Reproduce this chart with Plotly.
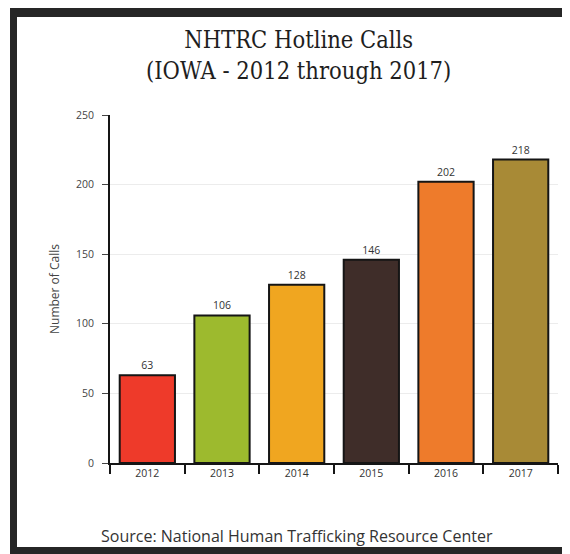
import plotly.graph_objects as go

years = ["2012", "2013", "2014", "2015", "2016", "2017"]
calls = [63, 106, 128, 146, 202, 218]
bar_colors = ["#ee3a2a", "#9dba2e", "#f0a620", "#3f2d29", "#ee7b2b", "#a88a36"]
y_ticks = [0, 50, 100, 150, 200, 250]

title_lines = ["NHTRC Hotline Calls", "(IOWA - 2012 through 2017)"]
y_title = "Number of Calls"
source_text = "Source: National Human Trafficking Resource Center"

# page body has an 8px margin, so the figure is drawn from (8, 8)
OFF = 8
W, H = 570 - OFF, 554 - OFF
# plot area in screen coords: x 110..558, y 115..463
ML, MR, MT, MB = 110 - OFF, 570 - 558, 115 - OFF, 554 - 463
PW, PH = W - ML - MR, H - MT - MB


def px_x(px):
    return (px - OFF - ML) / PW


def px_y(py):
    return (H - MB - (py - OFF)) / PH


fig = go.Figure()
fig.add_trace(go.Bar(
    x=years,
    y=calls,
    marker=dict(color=bar_colors, line=dict(color="#151515", width=2)),
    width=0.74,
    text=[str(v) for v in calls],
    textposition="outside",
    textfont=dict(family="Open Sans, sans-serif", size=10.5, color="#333333"),
    cliponaxis=False,
    showlegend=False,
))

shape_style = dict(xref="paper", yref="paper", layer="above")
shapes = [
    # top band
    dict(type="rect", x0=px_x(10), x1=px_x(570), y0=px_y(8), y1=px_y(17),
         fillcolor="#262626", line=dict(width=0), **shape_style),
    # left band
    dict(type="rect", x0=px_x(10), x1=px_x(17), y0=px_y(8), y1=px_y(554),
         fillcolor="#262626", line=dict(width=0), **shape_style),
    # bottom band
    dict(type="rect", x0=px_x(10), x1=px_x(570), y0=px_y(547), y1=px_y(554),
         fillcolor="#262626", line=dict(width=0), **shape_style),
    # right faint line
    dict(type="line", x0=px_x(566), x1=px_x(566), y0=px_y(17), y1=px_y(547),
         line=dict(color="#c4c4c4", width=1.5), **shape_style),
]

title_font = dict(family="DejaVu Serif Condensed, DejaVu Serif, serif", size=23.5, color="#1e1e1e")
annotations = [
    dict(text="<br>".join(title_lines), x=px_x(298), y=px_y(55), xref="paper", yref="paper",
         showarrow=False, xanchor="center", yanchor="middle", align="center", font=title_font),
    dict(text=source_text, x=px_x(297), y=px_y(536), xref="paper", yref="paper",
         showarrow=False, xanchor="center", yanchor="middle",
         font=dict(family="Open Sans, sans-serif", size=16, color="#333333")),
]

fig.update_layout(
    width=W, height=H, autosize=False,
    margin=dict(l=ML, r=MR, t=MT, b=MB, pad=0),
    paper_bgcolor="white", plot_bgcolor="white",
    shapes=shapes, annotations=annotations,
    bargap=0.26,
)

fig.update_xaxes(
    type="category", range=[-0.5, 5.5],
    showline=True, linecolor="#151515", linewidth=1.5,
    ticks="outside", tickson="boundaries", ticklen=9, tickwidth=1.5, tickcolor="#151515",
    tickfont=dict(family="Open Sans, sans-serif", size=10.5, color="#333333"),
    showgrid=False,
)
fig.update_yaxes(
    range=[0, 250], tickvals=y_ticks,
    showline=True, linecolor="#151515", linewidth=2,
    ticks="outside", ticklen=6, tickwidth=1, tickcolor="#444444",
    ticklabelstandoff=6,
    tickfont=dict(family="Open Sans, sans-serif", size=10.5, color="#444444"),
    showgrid=True, gridcolor="#ececec", gridwidth=1,
    zeroline=False,
    title=dict(text=y_title, standoff=14,
               font=dict(family="Open Sans, sans-serif", size=12, color="#444444")),
)

fig.write_html("out.html")
